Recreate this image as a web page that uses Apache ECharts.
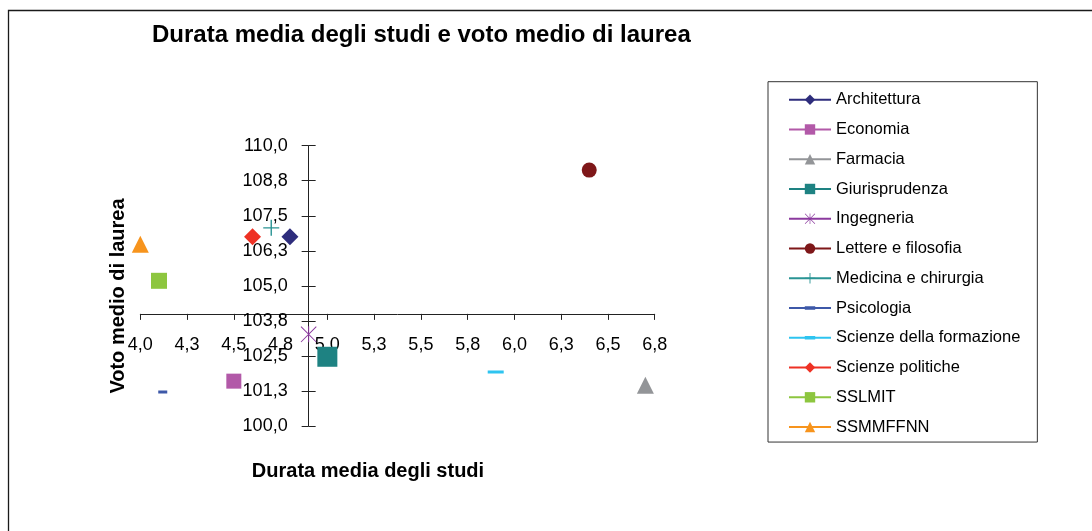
<!DOCTYPE html>
<html>
<head>
<meta charset="utf-8">
<script src="https://cdn.jsdelivr.net/npm/echarts@6/dist/echarts.min.js"></script>
<style>html,body{margin:0;padding:0;background:#fff}#c{width:1092px;height:531px}</style>
</head>
<body>
<div id="c"></div>
<script>
// ---- data ----
const facolta = ['Architettura','Economia','Farmacia','Giurisprudenza','Ingegneria','Lettere e filosofia','Medicina e chirurgia','Psicologia','Scienze della formazione','Scienze politiche','SSLMIT','SSMMFFNN'];
const durata = [4.8, 4.5, 6.7, 5.0, 4.9, 6.4, 4.7, 4.12, 5.9, 4.6, 4.1, 4.0];
const voto   = [106.75, 101.6, 101.45, 102.47, 103.27, 109.13, 107.07, 101.21, 101.93, 106.75, 105.18, 106.48];
const xTicks = {min: 4.0, max: 6.75, interval: 0.25, cross: 4.9};
const yTicks = {min: 100.0, max: 110.0, interval: 1.25, cross: 104.0};

// ---- styles ----
const colors = ['#2E2D7C','#B259A8','#939598','#1E8282','#8B3A9E','#7E1719','#2A9494','#3D58A8','#2EC4F0','#EE3124','#8DC63F','#F7941D'];
// dash inside a square box (tiny corner anchors fix the bounding box)
const dash = 'path://M0,0 L0.01,0 L0,0.01 Z M6,6 L5.99,6 L6,5.99 Z M0,2 L6,2 L6,4 L0,4 Z';
const plus = 'path://M7.3,0 L8.7,0 L8.7,7.3 L16,7.3 L16,8.7 L8.7,8.7 L8.7,16 L7.3,16 L7.3,8.7 L0,8.7 L0,7.3 L7.3,7.3 Z';
const star = 'path://M0,0.7 L0.7,0 L16,15.3 L15.3,16 Z M15.3,0 L16,0.7 L0.7,16 L0,15.3 Z M7.5,0 L8.5,0 L8.5,16 L7.5,16 Z';
const symbols = ['diamond','rect','triangle','rect',star,'circle',plus,dash,dash,'diamond','rect','triangle'];
const sizes = [17, 15, 17, 20, 16, 15, 16, [9,9], [16,9], 17, 16, 17];

const grid = {left: 140.3, top: 145.7, width: 514.4, height: 280.3};
const xOff = -(xTicks.cross - xTicks.min) / (xTicks.max - xTicks.min) * grid.width;
const yOff = -(yTicks.cross - yTicks.min) / (yTicks.max - yTicks.min) * grid.height;
const fmt = v => v.toFixed(1).replace('.', ',');
const FONT = 'Liberation Sans, Arial, sans-serif';

const chart = echarts.init(document.getElementById('c'), null, {renderer: 'canvas'});
const series = facolta.map((n, i) => ({
  name: n,
  type: 'line',
  xAxisIndex: 0, yAxisIndex: 0,
  data: [[durata[i], voto[i]]],
  symbol: symbols[i],
  symbolSize: sizes[i],
  symbolKeepAspect: false,
  showSymbol: true,
  itemStyle: {color: colors[i], borderWidth: 0},
  lineStyle: {color: colors[i], width: 1.3},
  emphasis: {disabled: true},
  animation: false,
  clip: false,
  z: 3
}));

chart.setOption({
  backgroundColor: '#fff',
  animation: false,
  title: {
    text: 'Durata media degli studi e voto medio di laurea',
    left: 152, top: 23.5, padding: 0,
    textStyle: {fontFamily: FONT, fontSize: 24, fontWeight: 'bold', color: '#000'}
  },
  grid: Object.assign({outerBoundsMode: 'none', containLabel: false}, grid),
  xAxis: [{
    type: 'value', position: 'bottom', offset: yOff,
    min: xTicks.min, max: xTicks.max, interval: xTicks.interval,
    axisLine: {show: true, onZero: false, lineStyle: {color: '#222', width: 1}},
    axisTick: {show: true, inside: false, length: 6, lineStyle: {color: '#222', width: 1}},
    axisLabel: {show: true, margin: 22, formatter: fmt, color: '#000', fontFamily: FONT, fontSize: 18},
    splitLine: {show: false}
  }],
  yAxis: [{
    type: 'value', position: 'left', offset: xOff,
    min: yTicks.min, max: yTicks.max, interval: yTicks.interval,
    axisLine: {show: true, onZero: false, lineStyle: {color: '#222', width: 1}},
    axisTick: {show: true, inside: false, length: 7, lineStyle: {color: '#222', width: 1}},
    axisLabel: {show: true, margin: 21, formatter: fmt, color: '#000', fontFamily: FONT, fontSize: 18},
    splitLine: {show: false}
  }, {
    type: 'value', position: 'left', offset: xOff,
    min: yTicks.min, max: yTicks.max, interval: yTicks.interval,
    axisLine: {show: false, onZero: false},
    axisTick: {show: true, inside: true, length: 7, lineStyle: {color: '#222', width: 1}},
    axisLabel: {show: false},
    splitLine: {show: false}
  }],
  legend: {
    orient: 'vertical',
    left: 768, top: 81.7,
    padding: [9.5, 17, 6.5, 20],
    itemWidth: 42, itemHeight: 13, itemGap: 12.76,
    borderColor: '#333', borderWidth: 1, borderRadius: 0,
    backgroundColor: '#fff',
    selectedMode: false,
    textStyle: {fontFamily: FONT, fontSize: 16.5, color: '#000'},
    data: facolta
  },
  graphic: [
    {type: 'rect', silent: true, z: -10, shape: {x: 8.5, y: 10.5, width: 1100, height: 600}, style: {fill: 'none', stroke: '#1a1a1a', lineWidth: 1.3}},
    {type: 'text', silent: true, x: 368, y: 471, style: {text: 'Durata media degli studi', font: 'bold 20px ' + FONT, fill: '#000', align: 'center', verticalAlign: 'middle'}},
    {type: 'text', silent: true, x: 118, y: 296, rotation: Math.PI / 2, style: {text: 'Voto medio di laurea', font: 'bold 20px ' + FONT, fill: '#000', align: 'center', verticalAlign: 'middle'}}
  ],
  series: series
});
</script>
</body>
</html>
